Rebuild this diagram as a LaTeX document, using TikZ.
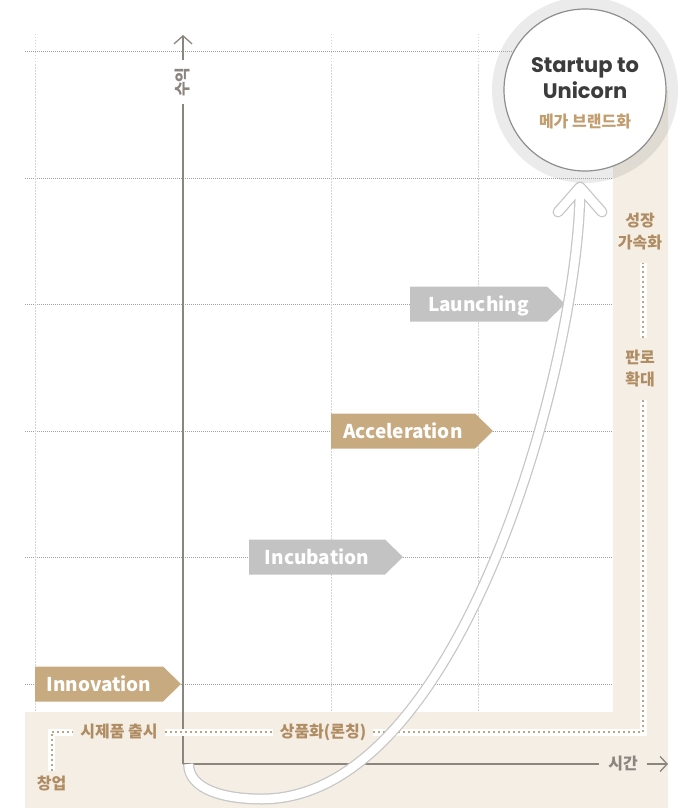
\documentclass[tikz,border=0pt]{standalone}
\usepackage{fontspec}
\setmainfont{Noto Sans CJK KR}
\newfontfamily\popp{Poppins}
\usetikzlibrary{arrows.meta}
\definecolor{beige}{HTML}{F4EEE4}
\definecolor{tanbox}{HTML}{C8AA80}
\definecolor{tantext}{HTML}{B08C63}
\definecolor{stagegray}{HTML}{C2C3C2}
\definecolor{axisgray}{HTML}{8A857F}
\definecolor{gridh}{HTML}{A0A0A0}
\definecolor{gridv}{HTML}{D4D4D4}
\definecolor{curveedge}{HTML}{C6C6C6}
\definecolor{darktext}{HTML}{3C3C3C}
\definecolor{megatan}{HTML}{C29E6E}
\definecolor{circedge}{HTML}{8E8E8E}
\newcommand{\stageshape}[6]{%
  \fill[#5] (#2,#4-17.5) -- (#3,#4-17.5) -- (#3+18,#4) -- (#3,#4+17.5) -- (#2,#4+17.5) -- cycle;
  \node[stagetext] (#1) at ({(#2+#3)/2},#4+7.5) {#6};
}
\begin{document}
\begin{tikzpicture}[x=1pt,y=-1pt,
  stagetext/.style={text=white, font=\bfseries\fontsize{19}{22}\selectfont, anchor=base, inner sep=0pt},
  bandlabel/.style={text=tantext, font=\bfseries\fontsize{16}{22}\selectfont, align=center, inner xsep=7pt, inner ysep=4pt},
  axislabel/.style={text=axisgray, font=\bfseries\fontsize{16}{19}\selectfont},
  axisline/.style={draw=axisgray, line width=1.8pt},
  axisthin/.style={draw=axisgray, line width=1.3pt},
  gridhline/.style={draw=gridh, line width=0.8pt, dash pattern=on 1pt off 1pt},
  gridvline/.style={draw=gridv, line width=1pt, dash pattern=on 1.5pt off 1.5pt},
  dotpath/.style={preaction={draw=white, line width=7pt}, draw=tantext!80, line width=2pt, dash pattern=on 2pt off 3pt},
  circtext/.style={text=darktext, font=\popp\bfseries\fontsize{21}{24}\selectfont, anchor=base, inner sep=0pt}
]
\useasboundingbox (0,0) rectangle (681,808);
% beige band
\fill[beige] (25,712) -- (613,712) -- (613,90) -- (668,90) -- (668,808) -- (25,808) -- cycle;
% ring
\fill[black, opacity=0.08] (585,90) circle[radius=93];
% grid
\foreach \y in {51,178,304,431,557,684} \draw[gridhline] (25,\y) -- (613,\y);
\foreach \x in {35,331,478} \draw[gridvline] (\x,34) -- (\x,712);
% goal circle
\node[circle, fill=white, draw=circedge, line width=1.2pt, minimum size=162pt, inner sep=0pt] (goal) at (585,90) {};
\node[circtext] (t1) at (585,72) {Startup to};
\node[circtext] (t2) at (585,98) {Unicorn};
\node[text=megatan, font=\bfseries\fontsize{16}{19}\selectfont, anchor=base, inner sep=0pt] (t3) at (585,127) {메가 브랜드화};
% stages
\stageshape{innov}{35}{163}{684}{tanbox}{Innovation}
\stageshape{incub}{249}{385}{557}{stagegray}{Incubation}
\stageshape{accel}{331}{475}{431}{tanbox}{Acceleration}
\stageshape{launch}{410}{547}{304}{stagegray}{Launching}
% axes
\coordinate (origin) at (183,764);
\coordinate (ytop) at (183,35);
\coordinate (xend) at (668,764);
\node[axislabel, rotate=90, inner xsep=7pt, inner ysep=0pt] (ylab) at (183,82) {수익};
\node[axislabel, inner xsep=9pt] (xlab) at (623,764) {시간};
\draw[axisline] (origin) -- (ylab);
\draw[axisthin, -{Straight Barb[length=8pt,width=18pt]}] (ylab) -- (ytop);
\draw[axisline] (origin) -- (xlab);
\draw[axisthin, -{Straight Barb[length=7pt,width=15pt]}] (xlab) -- (xend);
% band labels and dotted path
\node[bandlabel] (cy) at (51.5,783) {창업};
\node[bandlabel] (proto) at (119,732) {시제품 출시};
\node[bandlabel] (comm) at (323,732) {상품화(론칭)};
\node[bandlabel, inner ysep=12pt] (sales) at (640,369) {판로\\확대};
\node[bandlabel, inner ysep=12pt] (growth) at (640,232) {성장\\가속화};
\draw[dotpath] (cy.north) |- (proto.west);
\draw[dotpath] (proto.east) -- (comm.west);
\draw[dotpath] (comm.east) -| ([xshift=3pt]sales.south);
\draw[dotpath] ([xshift=3pt]sales.north) -- ([xshift=3pt]growth.south);
% growth curve (hollow arrow)
\coordinate (cstart) at (188.5,764);
\coordinate (cbottom) at (262,799);
\coordinate (ctip) at (580,187);
\foreach \c/\w in {curveedge/11pt, white/8.5pt}{
  \draw[draw=\c, line width=\w, line join=round]
    (cstart) .. controls (189,790) and (225,799) .. (cbottom)
             .. controls (462,799) and (580,357) .. (ctip);
  \draw[draw=\c, line width=\w, line cap=round, line join=round] (558,212) -- (ctip) -- (602,212);
}
\end{tikzpicture}
\end{document}
